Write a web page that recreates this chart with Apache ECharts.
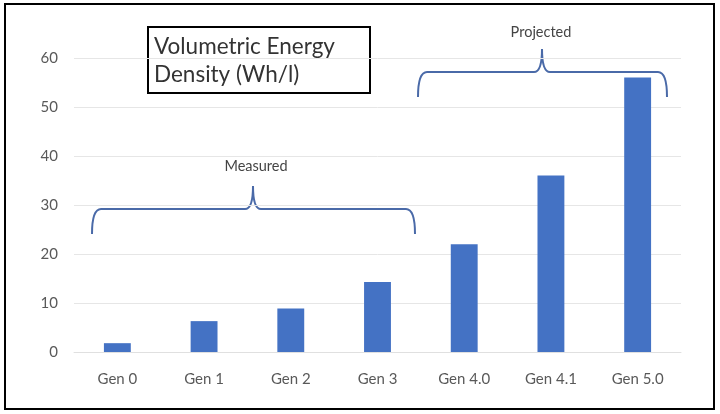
<!DOCTYPE html>
<html><head><meta charset="utf-8">
<script src="https://cdn.jsdelivr.net/npm/echarts@6/dist/echarts.min.js"></script>
<style>html,body{margin:0;padding:0;background:#fff}#c{width:720px;height:414px}</style>
</head><body><div id="c"></div>
<script>
var categories = ['Gen 0','Gen 1','Gen 2','Gen 3','Gen 4.0','Gen 4.1','Gen 5.0'];
var densityValues = [1.8, 6.3, 8.9, 14.3, 22, 36, 56];
var yTicks = [0,10,20,30,40,50,60];
var titleLines = ['Volumetric Energy','Density (Wh/l)'];
var groupLabels = ['Measured','Projected'];

var FONT = 'Lato, "Open Sans", sans-serif';
var braceColor = '#4a6aa8';

function brace(x1, x2, xm, yBar, yEnd, yTip) {
  var st = {fill:'none',stroke:braceColor,lineWidth:2};
  var r = 9;
  return [
    {type:'bezierCurve',shape:{x1:x1,y1:yEnd,cpx1:x1,cpy1:yBar,x2:x1+r,y2:yBar},style:st},
    {type:'line',shape:{x1:x1+r,y1:yBar,x2:xm-8,y2:yBar},style:st},
    {type:'bezierCurve',shape:{x1:xm-8,y1:yBar,cpx1:xm,cpy1:yBar,x2:xm,y2:yTip},style:st},
    {type:'bezierCurve',shape:{x1:xm,y1:yTip,cpx1:xm,cpy1:yBar,x2:xm+8,y2:yBar},style:st},
    {type:'line',shape:{x1:xm+8,y1:yBar,x2:x2-r,y2:yBar},style:st},
    {type:'bezierCurve',shape:{x1:x2-r,y1:yBar,cpx1:x2,cpy1:yBar,x2:x2,y2:yEnd},style:st}
  ];
}

var graphics = [
  {type:'rect',shape:{x:5,y:4,width:709,height:405},style:{fill:'none',stroke:'#000',lineWidth:2}},
  {type:'rect',shape:{x:148,y:27,width:222,height:66},style:{fill:'#fff',stroke:'#000',lineWidth:2}},
  {type:'text',x:154,y:33,style:{text:titleLines.join('\n'),fill:'#333',font:'22.5px '+FONT,lineHeight:28}},
  {type:'text',x:256,y:166,style:{text:groupLabels[0],fill:'#444',font:'14.5px '+FONT,textAlign:'center',textVerticalAlign:'middle'}},
  {type:'text',x:541,y:32,style:{text:groupLabels[1],fill:'#444',font:'14.5px '+FONT,textAlign:'center',textVerticalAlign:'middle'}}
].concat(brace(92,415,253,209,234,186)).concat(brace(418,667,542,72,97,49));

var chart = echarts.init(document.getElementById('c'));
chart.setOption({
  animation:false,
  backgroundColor:'#fff',
  grid:{left:74,right:39,top:58,bottom:62,containLabel:false},
  xAxis:{type:'category',data:categories,
    axisLine:{show:true,lineStyle:{color:'#e0e0e0'}},axisTick:{show:false},
    axisLabel:{color:'#595959',fontSize:15,fontFamily:FONT,margin:20}},
  yAxis:{type:'value',min:yTicks[0],max:yTicks[yTicks.length-1],interval:10,
    axisLine:{show:false},axisTick:{show:false},
    splitLine:{lineStyle:{color:'#e6e6e6'}},
    axisLabel:{color:'#595959',fontSize:15,fontFamily:FONT,margin:16}},
  series:[{type:'bar',data:densityValues,barWidth:'31%',itemStyle:{color:'#4472c4'}}],
  graphic:graphics
});
</script></body></html>
